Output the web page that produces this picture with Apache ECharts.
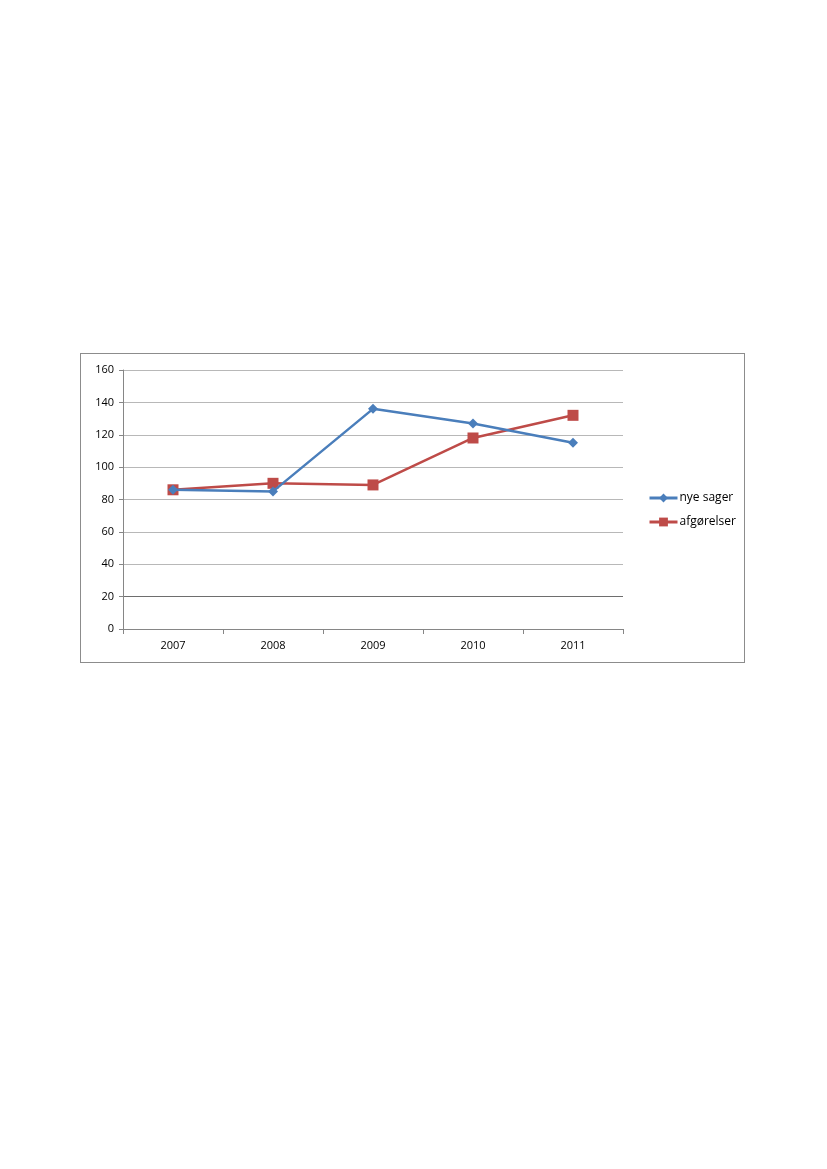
<!DOCTYPE html>
<html>
<head>
<meta charset="utf-8">
<script src="https://cdn.jsdelivr.net/npm/echarts@6/dist/echarts.min.js"></script>
<style>
    body{margin:0;background:#fff;}
    .box{
        position:absolute;
        left:80px;
        top:353px;
        width:663px;
        height:308px;
        border:1px solid #8c8c8c;
    }
    #chart{width:100%;height:100%;}
</style>
</head>
<body>
<div class="box"><div id="chart"></div></div>
<script>
var years = ['2007', '2008', '2009', '2010', '2011'];
var nyeSager = [86, 85, 136, 127, 115];
var afgorelser = [86, 90, 89, 118, 132];
var seriesNames = ['nye sager', 'afgørelser'];

var myChart = echarts.init(document.getElementById('chart'));
var opt = {
    animation: false,
    textStyle: {fontFamily: 'Open Sans, Liberation Sans, sans-serif'},
    grid: {
        left: 42,
        top: 16,
        width: 500,
        height: 259
    },
    legend: {
        orient: 'vertical',
        left: 562,
        top: 133,
        itemWidth: 28,
        itemHeight: 11,
        itemGap: 12,
        lineStyle: {width: 3},
        textStyle: {fontSize: 12, color: '#000', padding: [0, 0, 0, -3]},
        data: seriesNames
    },
    xAxis: {
        type: 'category',
        data: years,
        boundaryGap: true,
        axisLine: {lineStyle: {color: '#868686', width: 1}},
        axisTick: {show: true, length: 5, lineStyle: {color: '#868686'}},
        axisLabel: {color: '#000', fontSize: 11, margin: 11}
    },
    yAxis: {
        type: 'value',
        min: 0,
        max: 160,
        interval: 20,
        axisLine: {show: true, lineStyle: {color: '#868686'}},
        axisTick: {show: true, length: 4, lineStyle: {color: '#868686'}},
        axisLabel: {color: '#000', fontSize: 11, margin: 9},
        splitLine: {
            lineStyle: {
                color: ['#868686', '#6e6e6e', '#b8b8b8', '#b8b8b8', '#b8b8b8', '#b8b8b8', '#b8b8b8', '#b8b8b8', '#b8b8b8']
            }
        }
    },
    series: [
        {
            name: seriesNames[0],
            type: 'line',
            data: nyeSager,
            symbol: 'diamond',
            symbolSize: 10,
            color: '#4a7ebb',
            lineStyle: {width: 2.5},
            z: 3
        },
        {
            name: seriesNames[1],
            type: 'line',
            data: afgorelser,
            symbol: 'rect',
            symbolSize: 11,
            color: '#be4b48',
            lineStyle: {width: 2.5},
            z: 2
        }
    ]
};
myChart.setOption(opt);
</script>
</body>
</html>
